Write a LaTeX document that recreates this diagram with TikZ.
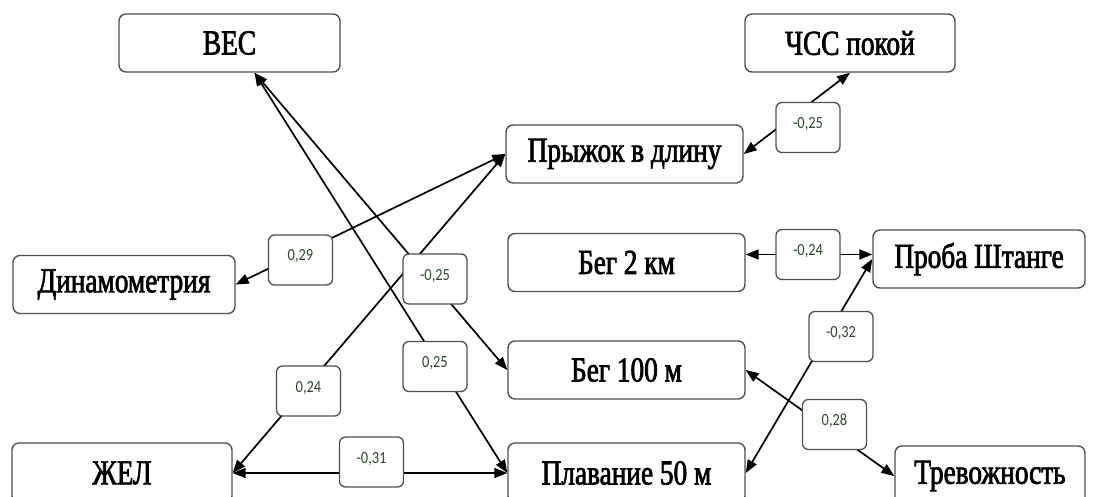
\documentclass[tikz,border=0pt]{standalone}
\usepackage{fontspec}
\setmainfont{Liberation Serif}
\newfontfamily\boxfont[FakeStretch=0.78,FakeBold=2]{Liberation Serif}
\newfontfamily\labfont[FakeStretch=0.85]{Carlito}
\usetikzlibrary{arrows.meta}
\pgfdeclarelayer{bg}
\pgfsetlayers{bg,main}
\definecolor{boxline}{HTML}{505050}
\definecolor{labtext}{HTML}{2E4A2E}
\tikzset{
  var/.style={draw=boxline, line width=1.4pt, rounded corners=7pt, fill=white, inner sep=0pt,
    minimum height=58pt, font=\boxfont\fontsize{35}{38}\selectfont},
  coef/.style={draw=boxline, line width=1.3pt, rounded corners=6pt, fill=white, inner sep=0pt,
    minimum width=64pt, minimum height=50pt, text height=11pt, text depth=9pt,
    text=labtext, font=\labfont\fontsize{17}{19}\selectfont},
  link/.style={line width=1.7pt, {Triangle[length=13pt,width=10pt]}-{Triangle[length=13pt,width=10pt]}}
}
\begin{document}
\begin{tikzpicture}[x=1pt,y=-1pt]
\useasboundingbox (0,0) rectangle (1093,497);
\clip (0,0) rectangle (1093,497);
% variables
\node[var, minimum width=221pt] (ves) at (229.5,43) {ВЕС};
\node[var, minimum width=210pt] (chss) at (850,43) {ЧСС покой};
\node[var, minimum width=237pt] (jump) at (624.5,154) {Прыжок в длину};
\node[var, minimum width=222pt] (dyn) at (124,284.5) {Динамометрия};
\node[var, minimum width=237pt] (beg2) at (626.5,262.5) {Бег 2 км};
\node[var, minimum width=212pt] (proba) at (979,259) {Проба Штанге};
\node[var, minimum width=237pt] (beg100) at (626.5,370) {Бег 100 м};
\node[var, minimum width=220pt, minimum height=60pt] (zhel) at (122,473) {ЖЕЛ};
\node[var, minimum width=237pt, minimum height=60pt] (plav) at (626.5,473) {Плавание 50 м};
\node[var, minimum width=190pt, minimum height=60pt] (trev) at (990,476) {Тревожность};
% coefficients
\node[coef] (l1) at (808,127.5) {-0,25};
\node[coef] (l2) at (300.5,260) {0,29};
\node[coef] (l3) at (435,279) {-0,25};
\node[coef] (l4) at (808,254.5) {-0,24};
\node[coef] (l5) at (435,366.5) {0,25};
\node[coef] (l6) at (308.5,391) {0,24};
\node[coef] (l7) at (371.5,462) {-0,31};
\node[coef] (l8) at (841,336.5) {-0,32};
\node[coef] (l9) at (834.5,424.5) {0,28};
% connectors
\begin{pgfonlayer}{bg}
\coordinate (vtip) at ([xshift=25pt]ves.south);
\draw[link] (chss.south) -- (jump.east);
\draw[link] (dyn.east) -- (jump.west);
\draw[link] (vtip) -- (beg100.west);
\draw[link] (vtip) -- (plav.west);
\draw[link] (zhel.east) -- (jump.west);
\draw[link] (zhel.east) -- (plav.west);
\draw[link] (beg2.east |- l4) -- (proba.west |- l4);
\draw[link] (plav.east) -- (proba.west);
\draw[link] (beg100.east) -- (trev.west);
\end{pgfonlayer}
\end{tikzpicture}
\end{document}
